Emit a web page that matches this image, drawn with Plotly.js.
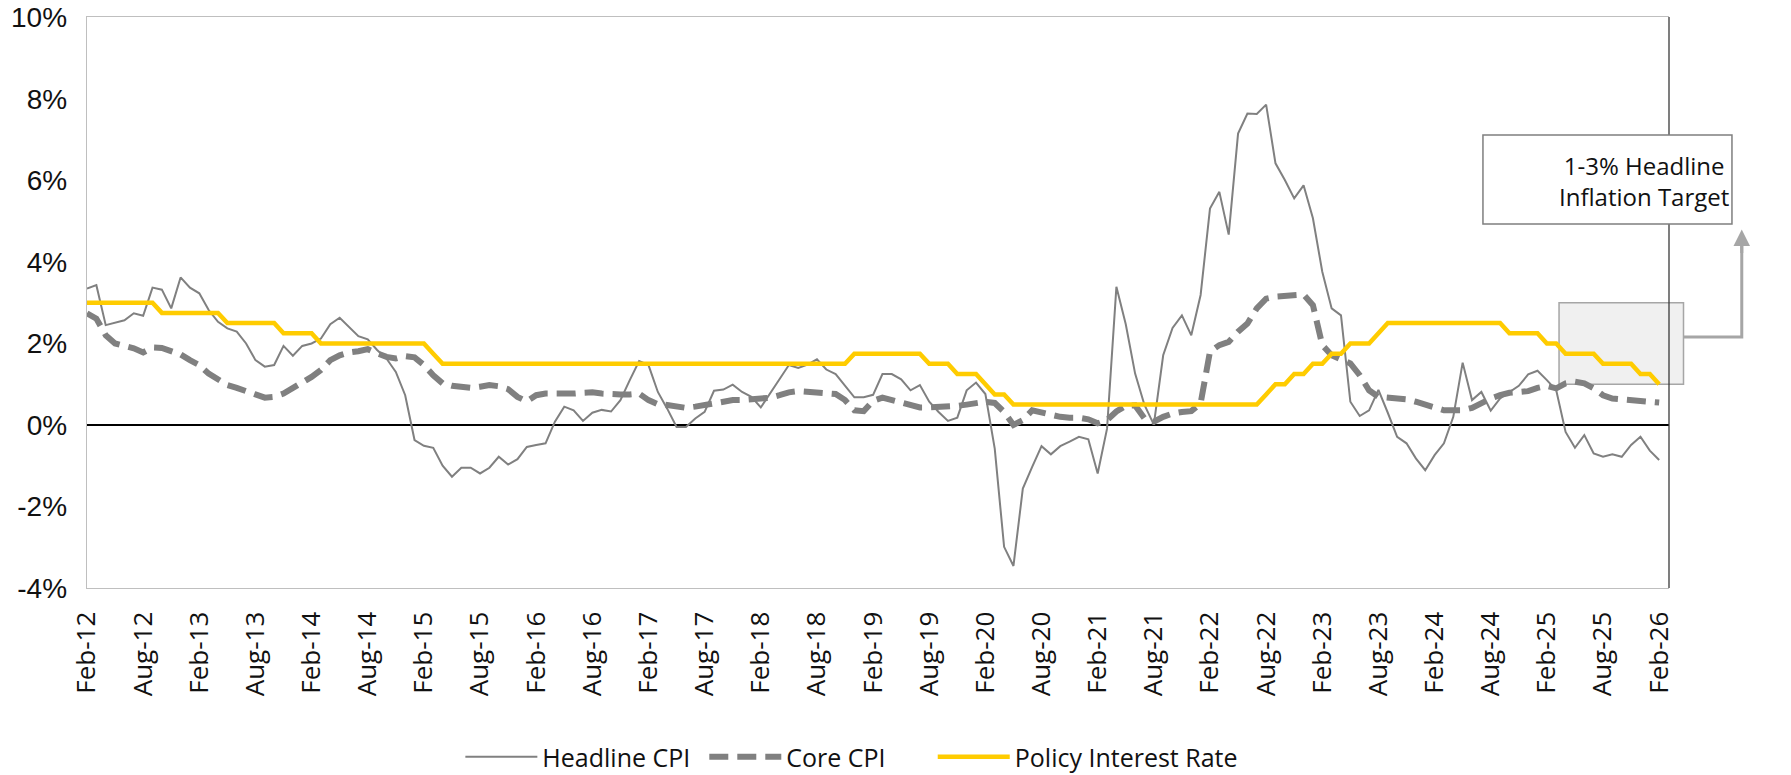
<!DOCTYPE html>
<html>
<head>
<meta charset="utf-8">
<script src="https://cdn.plot.ly/plotly-3.0.1.min.js"></script>
<style>
    html, body { margin: 0; padding: 0; background: #fff; }
    #plotDiv { width: 1791px; height: 775px; }
</style>
</head>
<body>
<div id="plotDiv"></div>
<script>
// monthly, Feb-12 .. Feb-26
const monthNames = ['Jan', 'Feb', 'Mar', 'Apr', 'May', 'Jun', 'Jul', 'Aug', 'Sep', 'Oct', 'Nov', 'Dec'];
const months = [];
for (let i = 0; i < 169; i++) {
    const k = i + 1;
    months.push(monthNames[k % 12] + '-' + (12 + Math.floor(k / 12)));
}

const headlineCPI = [
    3.35, 3.43, 2.45, 2.51, 2.57, 2.74, 2.68, 3.37, 3.32, 2.86, 3.62, 3.37,
    3.23, 2.82, 2.53, 2.37, 2.29, 2.00, 1.59, 1.43, 1.47, 1.94, 1.70, 1.94,
    2.00, 2.12, 2.47, 2.63, 2.40, 2.18, 2.10, 1.84, 1.63, 1.30, 0.73, -0.37,
    -0.51, -0.56, -1.00, -1.27, -1.05, -1.05, -1.19, -1.05, -0.78, -0.97, -0.84, -0.54,
    -0.49, -0.45, 0.08, 0.45, 0.36, 0.10, 0.30, 0.37, 0.33, 0.61, 1.10, 1.57,
    1.47, 0.81, 0.40, -0.05, -0.05, 0.16, 0.32, 0.84, 0.87, 0.99, 0.81, 0.69,
    0.43, 0.77, 1.10, 1.47, 1.40, 1.48, 1.61, 1.36, 1.25, 0.96, 0.68, 0.68,
    0.74, 1.25, 1.25, 1.12, 0.85, 0.98, 0.57, 0.32, 0.10, 0.18, 0.85, 1.04,
    0.76, -0.58, -2.99, -3.46, -1.56, -1.03, -0.52, -0.72, -0.52, -0.41, -0.29, -0.35,
    -1.19, -0.09, 3.39, 2.47, 1.26, 0.49, 0.01, 1.71, 2.38, 2.69, 2.20, 3.19,
    5.31, 5.72, 4.67, 7.15, 7.64, 7.63, 7.86, 6.42, 6.01, 5.56, 5.88, 5.07,
    3.76, 2.86, 2.69, 0.57, 0.22, 0.36, 0.86, 0.30, -0.29, -0.45, -0.82, -1.11,
    -0.74, -0.45, 0.20, 1.53, 0.61, 0.81, 0.35, 0.65, 0.81, 0.96, 1.24, 1.33,
    1.10, 0.85, -0.17, -0.56, -0.25, -0.70, -0.78, -0.72, -0.78, -0.49, -0.29, -0.63,
    -0.86
];

const coreCPI = [
    2.74, 2.61, 2.20, 2.00, 1.94, 1.88, 1.78, 1.90, 1.89, 1.81, 1.73, 1.59,
    1.47, 1.26, 1.10, 0.98, 0.91, 0.81, 0.75, 0.67, 0.69, 0.77, 0.90, 1.02,
    1.18, 1.35, 1.59, 1.71, 1.78, 1.81, 1.86, 1.76, 1.67, 1.63, 1.69, 1.66,
    1.47, 1.22, 1.02, 0.96, 0.95, 0.91, 0.94, 0.98, 0.95, 0.88, 0.69, 0.58,
    0.73, 0.77, 0.77, 0.76, 0.77, 0.79, 0.80, 0.77, 0.75, 0.75, 0.75, 0.77,
    0.61, 0.51, 0.49, 0.45, 0.42, 0.45, 0.49, 0.55, 0.58, 0.61, 0.61, 0.63,
    0.65, 0.67, 0.73, 0.80, 0.83, 0.81, 0.80, 0.79, 0.76, 0.61, 0.36, 0.34,
    0.59, 0.67, 0.61, 0.55, 0.49, 0.43, 0.43, 0.44, 0.44, 0.47, 0.50, 0.54,
    0.57, 0.54, 0.32, 0.00, 0.12, 0.36, 0.30, 0.24, 0.20, 0.18, 0.18, 0.14,
    0.04, 0.12, 0.33, 0.47, 0.48, 0.16, 0.08, 0.20, 0.28, 0.32, 0.34, 0.53,
    1.80, 1.96, 2.04, 2.29, 2.49, 2.86, 3.10, 3.15, 3.17, 3.20, 3.20, 2.94,
    1.96, 1.71, 1.59, 1.51, 1.22, 0.85, 0.69, 0.67, 0.67, 0.63, 0.57, 0.50,
    0.42, 0.36, 0.36, 0.36, 0.42, 0.55, 0.65, 0.73, 0.79, 0.81, 0.83, 0.91,
    0.96, 0.90, 1.02, 1.06, 1.02, 0.90, 0.73, 0.65, 0.63, 0.58, 0.57, 0.57,
    0.55
];

const policyRate = [
    3.00, 3.00, 3.00, 3.00, 3.00, 3.00, 3.00, 3.00, 2.75, 2.75, 2.75, 2.75,
    2.75, 2.75, 2.75, 2.50, 2.50, 2.50, 2.50, 2.50, 2.50, 2.25, 2.25, 2.25,
    2.25, 2.00, 2.00, 2.00, 2.00, 2.00, 2.00, 2.00, 2.00, 2.00, 2.00, 2.00,
    2.00, 1.75, 1.50, 1.50, 1.50, 1.50, 1.50, 1.50, 1.50, 1.50, 1.50, 1.50,
    1.50, 1.50, 1.50, 1.50, 1.50, 1.50, 1.50, 1.50, 1.50, 1.50, 1.50, 1.50,
    1.50, 1.50, 1.50, 1.50, 1.50, 1.50, 1.50, 1.50, 1.50, 1.50, 1.50, 1.50,
    1.50, 1.50, 1.50, 1.50, 1.50, 1.50, 1.50, 1.50, 1.50, 1.50, 1.75, 1.75,
    1.75, 1.75, 1.75, 1.75, 1.75, 1.75, 1.50, 1.50, 1.50, 1.25, 1.25, 1.25,
    1.00, 0.75, 0.75, 0.50, 0.50, 0.50, 0.50, 0.50, 0.50, 0.50, 0.50, 0.50,
    0.50, 0.50, 0.50, 0.50, 0.50, 0.50, 0.50, 0.50, 0.50, 0.50, 0.50, 0.50,
    0.50, 0.50, 0.50, 0.50, 0.50, 0.50, 0.75, 1.00, 1.00, 1.25, 1.25, 1.50,
    1.50, 1.75, 1.75, 2.00, 2.00, 2.00, 2.25, 2.50, 2.50, 2.50, 2.50, 2.50,
    2.50, 2.50, 2.50, 2.50, 2.50, 2.50, 2.50, 2.50, 2.25, 2.25, 2.25, 2.25,
    2.00, 2.00, 1.75, 1.75, 1.75, 1.75, 1.50, 1.50, 1.50, 1.50, 1.25, 1.25,
    1.00
];

const yTickVals = [-4, -2, 0, 2, 4, 6, 8, 10];
const yTickText = ['-4%', '-2%', '0%', '2%', '4%', '6%', '8%', '10%'];
const targetBand = [1, 3];
const targetLabel = '1-3% Headline<br>Inflation Target';

const xTickLabels = months.filter((m, i) => i % 6 === 0);
const xRange = [0, 169.05];
const yRange = [-4, 10.01];
const yPaper = v => (v - yRange[0]) / (yRange[1] - yRange[0]);

const traceHeadline = {
    x: months,
    y: headlineCPI,
    mode: 'lines',
    name: 'Headline CPI',
    legend: 'legend',
    line: {color: '#808080', width: 2}
};
const traceCore = {
    x: months,
    y: coreCPI,
    mode: 'lines',
    name: 'Core CPI',
    legend: 'legend2',
    line: {color: '#808080', width: 6, dash: '19px,9px'}
};
const tracePolicy = {
    x: months,
    y: policyRate,
    mode: 'lines',
    name: 'Policy Interest Rate',
    legend: 'legend3',
    line: {color: '#FFCC00', width: 4.5}
};

const fam = 'Open Sans, Lato, sans-serif';
const xTickFont = {family: fam, size: 26, color: '#111'};
const yTickFont = {family: 'Liberation Sans, Arial, sans-serif', size: 28, color: '#111'};
const legendFont = {family: fam, size: 25, color: '#111'};

// one legend box per series so the gaps can follow the reference
const legendAt = x => ({
    orientation: 'h', x: x, xanchor: 'left', y: -0.296, yanchor: 'middle',
    font: legendFont, itemwidth: 72, bgcolor: 'rgba(0,0,0,0)'
});

const layout = {
    width: 1791,
    height: 775,
    margin: {l: 87, r: 122, t: 17, b: 187, autoexpand: false},
    paper_bgcolor: '#fff',
    plot_bgcolor: '#fff',
    font: legendFont,
    showlegend: true,
    legend: legendAt(0.236),
    legend2: legendAt(0.3902),
    legend3: legendAt(0.5346),
    xaxis: {
        type: 'category',
        range: xRange,
        tickvals: xTickLabels,
        ticktext: xTickLabels,
        tickangle: -90,
        ticks: '',
        ticklabelstandoff: 12,
        showgrid: false,
        zeroline: false,
        showline: true,
        linecolor: '#bfbfbf',
        linewidth: 1.3,
        mirror: true,
        tickfont: xTickFont
    },
    xaxis2: {
        overlaying: 'x',
        anchor: 'free',
        position: yPaper(0),
        range: xRange,
        tick0: 0,
        dtick: 6,
        ticks: 'inside',
        ticklen: 8,
        tickwidth: 1.3,
        tickcolor: '#000',
        showticklabels: false,
        showgrid: false,
        zeroline: false,
        showline: false
    },
    yaxis: {
        range: yRange,
        tickvals: yTickVals,
        ticktext: yTickText,
        ticks: '',
        ticklabelstandoff: 13,
        ticklabeloverflow: 'allow',
        showgrid: false,
        zeroline: true,
        zerolinecolor: '#000',
        zerolinewidth: 1.3,
        showline: true,
        linecolor: '#bfbfbf',
        linewidth: 1.3,
        tickfont: yTickFont
    },
    shapes: [
        // target band
        {
            type: 'rect', xref: 'paper', yref: 'paper',
            x0: 157.3 / xRange[1], x1: 170.6 / xRange[1],
            y0: yPaper(targetBand[0]), y1: yPaper(targetBand[1]),
            fillcolor: '#f0f0f0', line: {color: '#a6a6a6', width: 1.5}, layer: 'below'
        },
        // right border of plot area
        {
            type: 'line', xref: 'paper', yref: 'paper', x0: 1, x1: 1, y0: 0, y1: 1,
            line: {color: '#3a3a3a', width: 1.3}, layer: 'above'
        },
        // connector from band to the label
        {
            type: 'path', xref: 'paper', yref: 'paper',
            path: 'M 1.0093 0.4396 L 1.0460 0.4396 L 1.0460 0.60',
            line: {color: '#a6a6a6', width: 3}, layer: 'above'
        },
        // label box
        {
            type: 'rect', xref: 'paper', yref: 'paper',
            x0: 0.8824, x1: 1.0398, y0: 0.6375, y1: 0.7933,
            fillcolor: '#fff', line: {color: '#7f7f7f', width: 1.5}, layer: 'above'
        }
    ],
    annotations: [
        {
            xref: 'paper', yref: 'paper', x: 0.9845, y: 0.7134,
            text: targetLabel, showarrow: false, xanchor: 'center', yanchor: 'middle',
            font: {family: fam, size: 24, color: '#111'}
        },
        {
            xref: 'paper', yref: 'paper', x: 1.0460, y: 0.628,
            text: '', showarrow: true, ax: 0, ay: 25, standoff: 0,
            arrowhead: 2, arrowsize: 1.1, arrowwidth: 3, arrowcolor: '#a6a6a6'
        }
    ]
};

const data = [traceHeadline, traceCore, tracePolicy];

Plotly.newPlot('plotDiv', data, layout, {staticPlot: true}).catch(error => {
    console.error('Error in plot:', error);
});
</script>
</body>
</html>
